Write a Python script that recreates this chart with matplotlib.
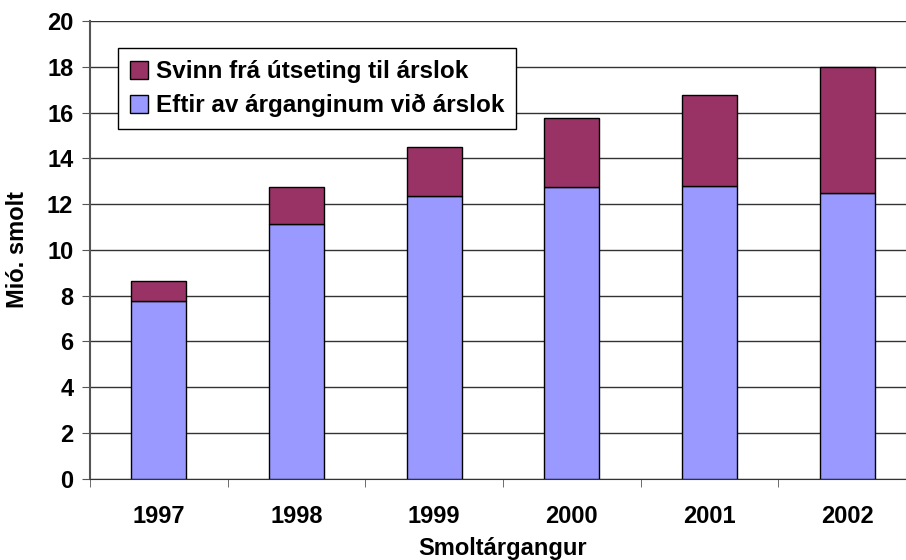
import numpy as np
import matplotlib.pyplot as plt

ar = ['1997', '1998', '1999', '2000', '2001', '2002']
eftir = [7.75, 11.15, 12.35, 12.75, 12.8, 12.5]
alls = [8.65, 12.75, 14.5, 15.75, 16.75, 18.0]
svinn = [a - e for a, e in zip(alls, eftir)]

plt.rcParams['font.family'] = ['Liberation Sans', 'DejaVu Sans']
plt.rcParams['font.weight'] = 'bold'

fig = plt.figure(figsize=(9.06, 5.60), dpi=100)
ax = fig.add_axes([90/906, (560-478.7)/560, (916-90)/906, (478.7-21)/560])

x = np.arange(len(ar))
ax.bar(x, eftir, width=0.4, color='#9999FF', edgecolor='black', linewidth=1,
       label='Eftir av árganginum við árslok', zorder=3)
ax.bar(x, svinn, width=0.4, bottom=eftir, color='#993366', edgecolor='black',
       linewidth=1, label='Svinn frá útseting til árslok', zorder=3)

ax.set_xlim(-0.5, 5.5)
ax.set_ylim(0, 20)
ax.set_yticks(range(0, 21, 2))
ax.set_xticks(x)
ax.set_xticklabels(ar)
ax.set_xticks(np.arange(-0.5, 6, 1), minor=True)
ax.tick_params(axis='x', which='major', length=0, pad=19, labelsize=17)
ax.tick_params(axis='x', which='minor', length=6, direction='out', color='#555555')
ax.tick_params(axis='y', length=6, direction='out', labelsize=17, pad=6, color='#555555')

ax.grid(axis='y', color='#333333', linewidth=1, zorder=0)
for s in ['top', 'right']:
    ax.spines[s].set_visible(False)
ax.spines['left'].set_color('#555555')
ax.spines['bottom'].set_color('#333333')
ax.spines['left'].set_linewidth(1.5)

fig.text(18/906, 1-250/560, 'Mió. smolt', rotation=90, ha='center', va='center',
         fontsize=17, fontweight='bold')
fig.text(503/906, 1-548/560, 'Smoltárgangur', ha='center', va='center',
         fontsize=17, fontweight='bold')

h, l = ax.get_legend_handles_labels()
leg = ax.legend(h[::-1], l[::-1], loc='upper left',
                bbox_to_anchor=(118/906, 1-48/560), bbox_transform=fig.transFigure,
                fancybox=False, edgecolor='black', framealpha=1, fontsize=17.5,
                handlelength=0.75, handleheight=0.75, handletextpad=0.3,
                borderpad=0.5, labelspacing=0.45, borderaxespad=0)
leg.get_frame().set_linewidth(1)
leg.set_zorder(5)

fig.savefig('out.png', dpi=100)
